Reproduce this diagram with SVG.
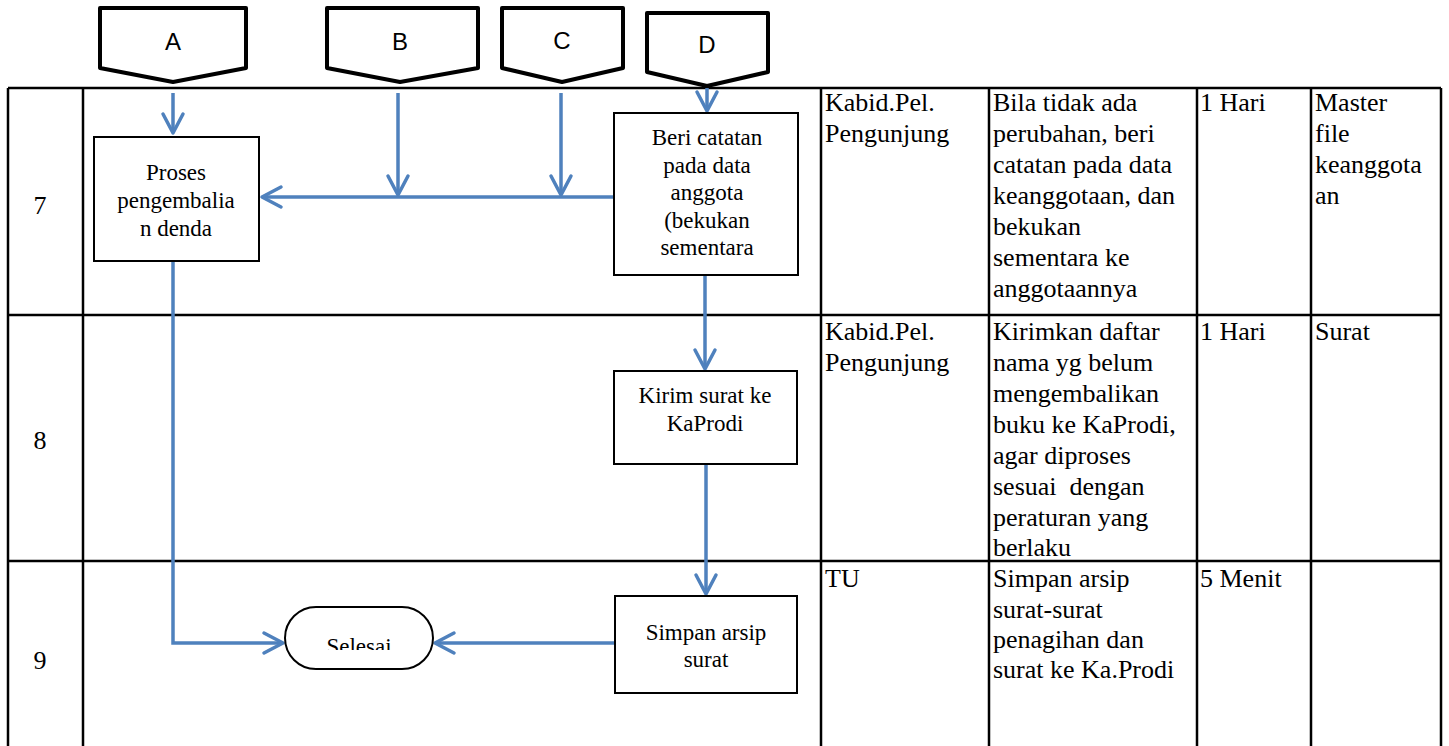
<svg xmlns="http://www.w3.org/2000/svg" width="1449" height="746" viewBox="0 0 1449 746">
<style>
.grid{stroke:#000;stroke-width:2.5;fill:none}
.box{fill:#fff;stroke:#000;stroke-width:2}
.off{fill:#fff;stroke:#000;stroke-width:4;stroke-linejoin:round}
.lbl{font-family:"Liberation Sans",Arial,sans-serif;font-size:24px;fill:#000;text-anchor:middle}
.ft{font-family:'Liberation Serif','DejaVu Serif',serif;font-size:23px;fill:#000;text-anchor:middle}
.tt{font-family:'Liberation Serif','DejaVu Serif',serif;font-size:26px;fill:#000}
.num{font-family:'Liberation Serif','DejaVu Serif',serif;font-size:26px;fill:#000;text-anchor:middle}
.con{stroke:#4F81BD;stroke-width:3.5;fill:none}
.arr{marker-end:url(#ah)}
.pre{white-space:pre}
</style>
<defs>
<marker id="ah" markerUnits="userSpaceOnUse" markerWidth="26" markerHeight="26" viewBox="0 0 26 26" refX="23" refY="13" orient="auto">
<path d="M4,3 L23,13 L4,23" fill="none" stroke="#4F81BD" stroke-width="3.5" stroke-linecap="round" stroke-linejoin="round"/>
</marker>
<clipPath id="selclip"><rect x="285" y="600" width="150" height="50"/></clipPath>
</defs>
<rect width="1449" height="746" fill="#fff"/>
<g id="table">
<line class="grid" x1="8" y1="88" x2="1441" y2="88"/>
<line class="grid" x1="8" y1="315" x2="1441" y2="315"/>
<line class="grid" x1="8" y1="561" x2="1441" y2="561"/>
<line class="grid" x1="8" y1="88" x2="8" y2="746"/>
<line class="grid" x1="83" y1="88" x2="83" y2="746"/>
<line class="grid" x1="821" y1="88" x2="821" y2="746"/>
<line class="grid" x1="989" y1="88" x2="989" y2="746"/>
<line class="grid" x1="1197" y1="88" x2="1197" y2="746"/>
<line class="grid" x1="1311" y1="88" x2="1311" y2="746"/>
<line class="grid" x1="1441" y1="88" x2="1441" y2="746"/>
<text class="num" x="40" y="214">7</text>
<text class="num" x="40" y="449">8</text>
<text class="num" x="40" y="669">9</text>
<text class="tt" x="825" y="111">Kabid.Pel.</text>
<text class="tt" x="825" y="142">Pengunjung</text>
<text class="tt"><tspan x="993" y="111">Bila tidak ada</tspan><tspan x="993" y="142">perubahan, beri</tspan><tspan x="993" y="173">catatan pada data</tspan><tspan x="993" y="204">keanggotaan, dan</tspan><tspan x="993" y="235">bekukan</tspan><tspan x="993" y="266">sementara ke</tspan><tspan x="993" y="297">anggotaannya</tspan></text>
<text class="tt" x="1200" y="111">1 Hari</text>
<text class="tt"><tspan x="1315" y="111">Master</tspan><tspan x="1315" y="142">file</tspan><tspan x="1315" y="173">keanggota</tspan><tspan x="1315" y="204">an</tspan></text>
<text class="tt" x="825" y="340">Kabid.Pel.</text>
<text class="tt" x="825" y="371">Pengunjung</text>
<text class="tt"><tspan x="993" y="340">Kirimkan daftar</tspan><tspan x="993" y="371">nama yg belum</tspan><tspan x="993" y="402">mengembalikan</tspan><tspan x="993" y="433">buku ke KaProdi,</tspan><tspan x="993" y="464">agar diproses</tspan><tspan class="pre" x="993" y="495">sesuai  dengan</tspan><tspan x="993" y="526">peraturan yang</tspan><tspan x="993" y="556">berlaku</tspan></text>
<text class="tt" x="1200" y="340">1 Hari</text>
<text class="tt" x="1315" y="340">Surat</text>
<text class="tt" x="825" y="587">TU</text>
<text class="tt"><tspan x="993" y="587">Simpan arsip</tspan><tspan x="993" y="618">surat-surat</tspan><tspan x="993" y="648">penagihan dan</tspan><tspan x="993" y="678">surat ke Ka.Prodi</tspan></text>
<text class="tt" x="1200" y="587">5 Menit</text>
</g>
<g id="connectors">
<line class="con arr" x1="173" y1="93" x2="173" y2="133"/>
<line class="con arr" x1="398" y1="93" x2="398" y2="195"/>
<line class="con arr" x1="561" y1="93" x2="561" y2="195"/>
<line class="con arr" x1="707" y1="88" x2="707" y2="111"/>
<line class="con arr" x1="614" y1="197" x2="262" y2="197"/>
<line class="con arr" x1="705" y1="275" x2="705" y2="369"/>
<line class="con arr" x1="706" y1="464" x2="706" y2="594"/>
<line class="con arr" x1="615" y1="643" x2="435" y2="643"/>
<polyline class="con arr" points="173,261 173,643 283,643"/>
</g>
<g id="offA"><path class="off" d="M100,8 H246 V68 L173,82 L100,68 Z"/><text class="lbl" x="173" y="50">A</text></g>
<g id="offB"><path class="off" d="M327,8 H478 V68 L400,82 L327,68 Z"/><text class="lbl" x="400" y="50">B</text></g>
<g id="offC"><path class="off" d="M502,8 H623 V68 L562,82 L502,68 Z"/><text class="lbl" x="562" y="49">C</text></g>
<g id="offD"><path class="off" d="M647,13 H768 V72 L707,86 L647,72 Z"/><text class="lbl" x="707" y="53">D</text></g>
<g id="proses"><rect class="box" x="94" y="137" width="165" height="124"/><text class="ft"><tspan x="176" y="180">Proses</tspan><tspan x="176" y="208">pengembalia</tspan><tspan x="176" y="236">n denda</tspan></text></g>
<g id="beri"><rect class="box" x="614" y="113" width="184" height="162"/><text class="ft"><tspan x="707" y="145">Beri catatan</tspan><tspan x="707" y="172.5">pada data</tspan><tspan x="707" y="200">anggota</tspan><tspan x="707" y="227.5">(bekukan</tspan><tspan x="707" y="255">sementara</tspan></text></g>
<g id="kirim"><rect class="box" x="614" y="371" width="183" height="93"/><text class="ft"><tspan x="705" y="403">Kirim surat ke</tspan><tspan x="705" y="431">KaProdi</tspan></text></g>
<g id="simpan"><rect class="box" x="615" y="596" width="182" height="97"/><text class="ft"><tspan x="706" y="640">Simpan arsip</tspan><tspan x="706" y="667">surat</tspan></text></g>
<g id="selesai"><rect class="box" x="285" y="607" width="148" height="62" rx="31" ry="31"/><text class="ft" x="359" y="654" clip-path="url(#selclip)">Selesai</text></g>
</svg>
